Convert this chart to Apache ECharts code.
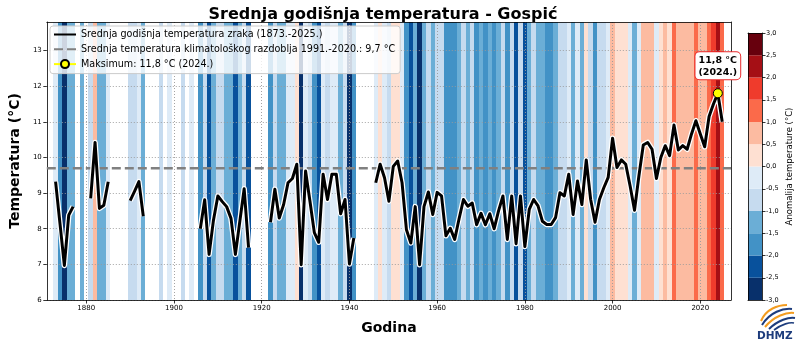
<!DOCTYPE html>
<html><head><meta charset="utf-8">
<script src="https://cdn.jsdelivr.net/npm/echarts@6/dist/echarts.min.js"></script>
<style>html,body{margin:0;padding:0;background:#fff}#c{width:800px;height:344px}</style>
</head><body><div id="c"></div>
<script>
// ---------- data ----------
const firstYear = 1873;
const lastYear = 2025;
// annual mean temperature (°C), null = missing year
const temps = [
  9.32, 8.15, 6.97, 8.38, 8.62, null, 8.45, null,            // 1873-1880
  8.85, 10.42, 8.57, 8.66, 9.32, null, null, null, null,     // 1881-1889
  8.79, 9.05, 9.32, 8.35, null, null, null, 9.0, null, 9.4,  // 1890-1899
  null, null, 9.0, null, 9.4, null, 8.0, 8.81, 7.28, 8.24,   // 1900-1909
  8.92, 8.76, 8.62, 8.29, 7.28, 8.2, 9.12, 7.47, null, null, // 1910-1919
  null, null, 8.18, 9.11, 8.3, 8.68, 9.29, 9.41, 9.81, 6.99, // 1920-1929
  9.62, 8.77, 7.89, 7.62, 9.53, 8.82, 9.53, 9.53, 8.42, 8.82,// 1930-1939
  7.01, 7.74, null, null, null, null, 9.29, 9.81, 9.43, 8.77,// 1940-1949
  9.75, 9.9, 9.29, 7.97, 7.6, 8.62, 6.99, 8.62, 9.03, 8.4,   // 1950-1959
  9.02, 8.92, 7.8, 8.01, 7.7, 8.28, 8.82, 8.63, 8.72, 8.11,  // 1960-1969
  8.43, 8.11, 8.42, 8.0, 8.5, 8.92, 7.7, 8.92, 7.58, 8.92,   // 1970-1979
  7.5, 8.54, 8.82, 8.64, 8.21, 8.12, 8.12, 8.31, 9.01, 8.92, // 1980-1989
  9.53, 8.4, 9.34, 8.68, 9.93, 8.82, 8.18, 8.82, 9.15, 9.44, // 1990-1999
  10.54, 9.72, 9.93, 9.81, 9.2, 8.52, 9.48, 10.35, 10.42, 10.23, // 2000-2009
  9.41, 10.0, 10.33, 10.05, 10.91, 10.21, 10.33, 10.23, 10.66, 11.03, // 2010-2019
  10.66, 10.3, 11.15, 11.5, 11.8, 11.0                        // 2020-2025
];
const climMean = 9.7;
const maxYear = 2024;
const maxTemp = 11.8;
const xTicks = [1880, 1900, 1920, 1940, 1960, 1980, 2000, 2020];
const yTicks = [6, 7, 8, 9, 10, 11, 12, 13];
const cbBinLows = [-3, -2.5, -2, -1.5, -1, -0.5, 0, 0.5, 1, 1.5, 2, 2.5];
const cbColors = ['#08306b', '#08519c', '#4292c6', '#6baed6', '#c6dbef', '#deebf7',
                  '#fee0d2', '#fcbba1', '#fb6a4a', '#ef3b2c', '#a50f15', '#67000d'];

// ---------- derived ----------
const years = [];
for (let y = firstYear; y <= lastYear; y++) years.push(y);
const X_MIN = firstYear - 2, X_MAX = lastYear + 2, Y_MIN = 6, Y_MAX = 13.8;
const fmt = v => v.toFixed(1).replace('.', ',');
const n = years.length;
// isolated years (no neighbour) do not produce a visible line segment
const lineData = years.map((y, i) => {
  const v = temps[i];
  const p = i > 0 ? temps[i - 1] : null, q = i < n - 1 ? temps[i + 1] : null;
  if (v == null || (p == null && q == null)) return [y, '-'];
  return [y, v];
});
const stripeData = [];
years.forEach((y, i) => { if (temps[i] != null) stripeData.push([y, temps[i]]); });
function anomColor(v) {
  let k = Math.floor((v - climMean + 3) / 0.5);
  k = Math.max(0, Math.min(cbColors.length - 1, k));
  return cbColors[k];
}

const FONT = 'DejaVu Sans';
const L1 = 'Srednja godišnja temperatura zraka (' + firstYear + '.-' + lastYear + '.)';
const L2 = 'Srednja temperatura klimatološkog razdoblja 1991.-2020.: ' + fmt(climMean) + ' °C';
const L3 = 'Maksimum: ' + fmt(maxTemp) + ' °C (' + maxYear + '.)';

const frameLine = { show: true, onZero: false, lineStyle: { color: '#000', width: 0.8 } };
const gridLine = { show: true, lineStyle: { color: '#9a9a9a', type: [1, 2], width: 1, opacity: 0.9 } };
const bare = { axisTick: { show: false }, axisLabel: { show: false }, splitLine: { show: false } };
const hiddenSymbol = { opacity: 0, borderWidth: 0 };

const chart = echarts.init(document.getElementById('c'));
chart.setOption({
  animation: false,
  title: {
    text: 'Srednja godišnja temperatura - Gospić', left: 378, top: 2, textAlign: 'center',
    textStyle: { fontFamily: FONT, fontWeight: 'bold', fontSize: 16, color: '#000' }
  },
  legend: {
    data: [
      { name: L1, itemStyle: hiddenSymbol },
      { name: L2, itemStyle: hiddenSymbol },
      { name: L3 }
    ],
    orient: 'vertical', left: 50, top: 26,
    itemWidth: 22, itemHeight: 10, itemGap: 3.8, padding: [3, 5, 4, 3],
    backgroundColor: 'rgba(255,255,255,0.8)', borderColor: '#cccccc', borderWidth: 1, borderRadius: 3,
    textStyle: { fontFamily: FONT, fontSize: 9.6, color: '#000', lineHeight: 11 },
    selectedMode: false, z: 6
  },
  grid: [
    { left: 46, top: 22, width: 685, height: 278 },
    { left: 748, top: 33, width: 14, height: 267 }
  ],
  xAxis: [
    {
      gridIndex: 0, type: 'value', min: X_MIN, max: X_MAX, position: 'bottom', z: 1,
      name: 'Godina', nameLocation: 'middle', nameGap: 21,
      nameTextStyle: { fontFamily: FONT, fontWeight: 'bold', fontSize: 14, color: '#000' },
      axisLine: frameLine,
      axisTick: { show: true, length: 3.5, customValues: xTicks, lineStyle: { color: '#000', width: 0.8 } },
      axisLabel: { customValues: xTicks, fontFamily: FONT, fontSize: 7, margin: 5, color: '#000', formatter: v => String(v) },
      splitLine: gridLine
    },
    Object.assign({ gridIndex: 0, type: 'value', min: X_MIN, max: X_MAX, position: 'top', z: 1, axisLine: frameLine }, bare),
    Object.assign({ gridIndex: 1, type: 'value', min: 0, max: 1, position: 'bottom', z: 1, axisLine: frameLine }, bare),
    Object.assign({ gridIndex: 1, type: 'value', min: 0, max: 1, position: 'top', z: 1, axisLine: frameLine }, bare)
  ],
  yAxis: [
    {
      gridIndex: 0, type: 'value', min: Y_MIN, max: Y_MAX, position: 'left', z: 1,
      name: 'Temperatura (°C)', nameLocation: 'middle', nameGap: 21,
      nameTextStyle: { fontFamily: FONT, fontWeight: 'bold', fontSize: 14, color: '#000' },
      axisLine: frameLine,
      axisTick: { show: true, length: 3.5, customValues: yTicks, lineStyle: { color: '#000', width: 0.8 } },
      axisLabel: { customValues: yTicks, fontFamily: FONT, fontSize: 7, margin: 5, color: '#000', formatter: v => String(v) },
      splitLine: gridLine
    },
    Object.assign({ gridIndex: 0, type: 'value', min: Y_MIN, max: Y_MAX, position: 'right', z: 1, axisLine: frameLine }, bare),
    {
      gridIndex: 1, type: 'value', min: -3, max: 3, interval: 0.5, position: 'right', z: 1,
      name: 'Anomalija temperature (°C)', nameLocation: 'middle', nameGap: 23,
      nameTextStyle: { fontFamily: FONT, fontSize: 8.5, color: '#000' },
      axisLine: frameLine,
      axisTick: { show: true, length: 3.5, lineStyle: { color: '#000', width: 0.8 } },
      axisLabel: { fontFamily: FONT, fontSize: 6.5, margin: 4, color: '#000', formatter: v => fmt(v) },
      splitLine: { show: false }
    },
    Object.assign({ gridIndex: 1, type: 'value', min: -3, max: 3, position: 'left', z: 1, axisLine: frameLine }, bare)
  ],
  series: [
    {
      type: 'custom', name: 'stripes', xAxisIndex: 0, yAxisIndex: 0, z: 0, silent: true,
      data: stripeData,
      renderItem: (params, api) => {
        const yr = api.value(0), v = api.value(1);
        const a = api.coord([yr - 0.5, Y_MAX]), b = api.coord([yr + 0.5, Y_MIN]);
        const x0 = Math.round(a[0]), x1 = Math.round(b[0]);
        return { type: 'rect', shape: { x: x0, y: a[1], width: x1 - x0, height: b[1] - a[1] }, style: { fill: anomColor(v) } };
      }
    },
    {
      type: 'custom', name: 'cbar', xAxisIndex: 2, yAxisIndex: 2, z: 0, silent: true,
      data: cbBinLows,
      renderItem: (params, api) => {
        const lo = api.value(0);
        const a = api.coord([0, lo + 0.5]), b = api.coord([1, lo]);
        return { type: 'rect', shape: { x: a[0], y: a[1], width: b[0] - a[0], height: b[1] - a[1] }, style: { fill: cbColors[params.dataIndex] } };
      }
    },
    {
      type: 'line', name: L2, data: [[X_MIN, climMean], [X_MAX, climMean]], symbol: 'none', z: 2, silent: true,
      lineStyle: { color: '#808080', width: 2.5, type: [9, 4] }, itemStyle: { color: '#808080' }
    },
    {
      type: 'line', name: 'halo', data: lineData, symbol: 'none', z: 2, silent: true, connectNulls: false,
      lineStyle: { color: '#ffffff', width: 5.5, join: 'round' }
    },
    {
      type: 'line', name: L1, data: lineData, symbol: 'none', z: 2, silent: true, connectNulls: false,
      lineStyle: { color: '#000000', width: 3, join: 'round' }, itemStyle: { color: '#000' }
    },
    {
      type: 'line', name: L3, data: [[maxYear, maxTemp]], symbol: 'circle', symbolSize: 9, showSymbol: true, z: 3, silent: true,
      itemStyle: { color: '#ffff00', borderColor: '#000', borderWidth: 1 },
      lineStyle: { color: '#ffff00', width: 1.5 },
      label: {
        show: true, position: 'top', distance: 9,
        formatter: () => fmt(maxTemp) + ' °C\n(' + maxYear + '.)',
        fontFamily: FONT, fontWeight: 'bold', fontSize: 9.5, lineHeight: 12, color: '#000', align: 'center',
        backgroundColor: '#ffffff', borderColor: '#e8282b', borderWidth: 1, borderRadius: 4, padding: [2, 3, 1, 3]
      }
    }
  ],
  graphic: [
    { type: 'bezierCurve', shape: { x1: 761, y1: 321, x2: 787, y2: 305, cpx1: 766, cpy1: 309, cpx2: 778, cpy2: 305 }, style: { stroke: '#f39c1f', lineWidth: 2, fill: null } },
    { type: 'bezierCurve', shape: { x1: 762, y1: 325, x2: 792, y2: 309, cpx1: 770, cpy1: 312, cpx2: 783, cpy2: 308 }, style: { stroke: '#1d3c7c', lineWidth: 2, fill: null } },
    { type: 'bezierCurve', shape: { x1: 765, y1: 327, x2: 794, y2: 313, cpx1: 774, cpy1: 316, cpx2: 787, cpy2: 312 }, style: { stroke: '#f39c1f', lineWidth: 2, fill: null } },
    { type: 'bezierCurve', shape: { x1: 769, y1: 329, x2: 795, y2: 318, cpx1: 778, cpy1: 320, cpx2: 789, cpy2: 317 }, style: { stroke: '#1d3c7c', lineWidth: 2, fill: null } },
    { type: 'bezierCurve', shape: { x1: 774, y1: 330, x2: 794, y2: 323, cpx1: 782, cpy1: 324, cpx2: 790, cpy2: 322 }, style: { stroke: '#1d3c7c', lineWidth: 1.6, fill: null } },
    { type: 'text', left: 757, top: 331, style: { text: 'DHMZ', font: 'bold 10.5px DejaVu Sans', fill: '#1d3c7c' } }
  ]
});
</script></body></html>
